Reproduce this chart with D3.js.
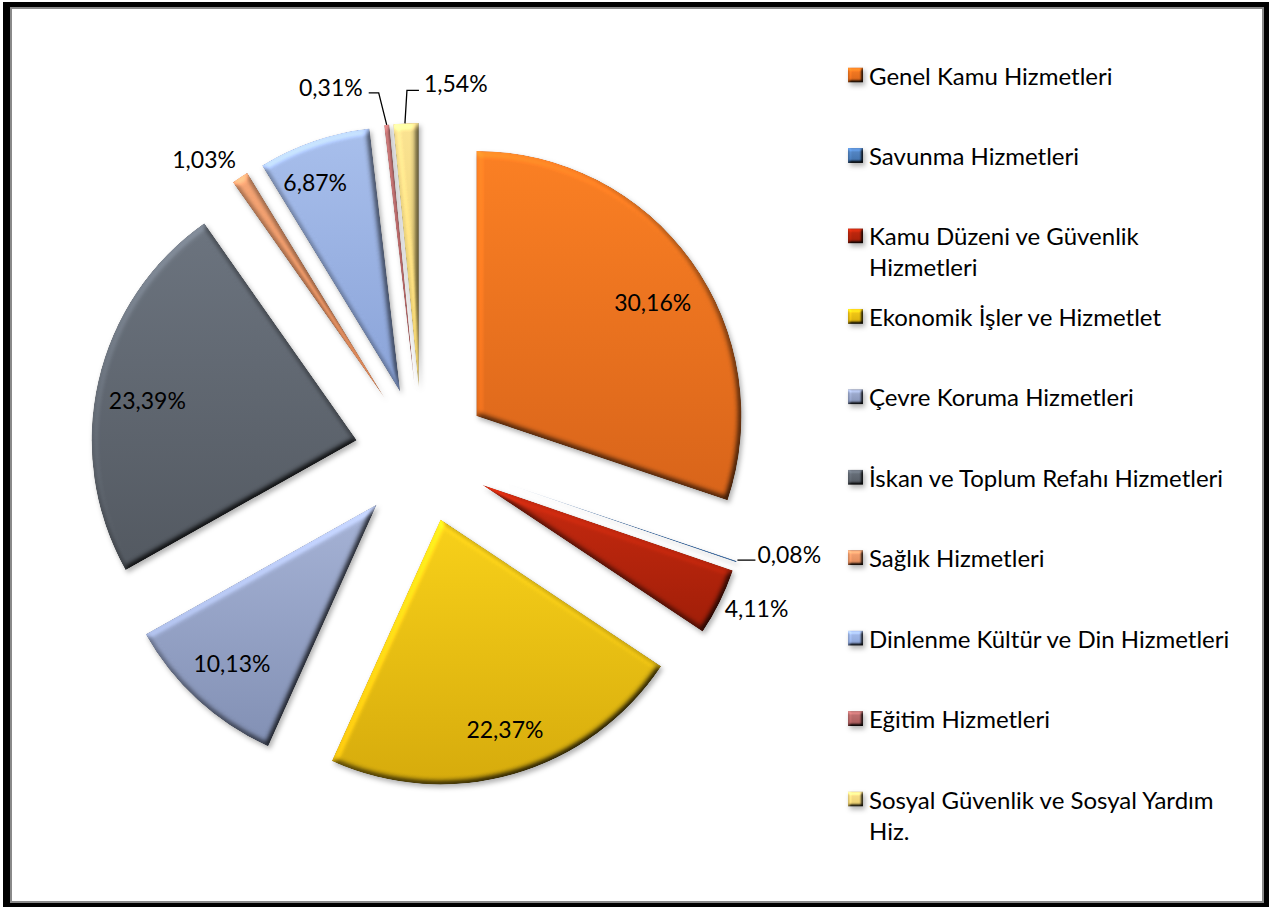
<!DOCTYPE html>
<html>
<head>
<meta charset="utf-8">
<script src="https://cdn.jsdelivr.net/npm/d3@7"></script>
<style>
  html, body { margin: 0; padding: 0; background: #fff; }
  svg { display: block; }
  text { font-family: Lato, "Open Sans", "Liberation Sans", sans-serif; fill: #000; }
</style>
</head>
<body>
<svg id="chart" width="1269" height="907"></svg>
<script>
// Budget shares by function (percent)
const categories = [
  "Genel Kamu Hizmetleri",
  "Savunma Hizmetleri",
  "Kamu Düzeni ve Güvenlik Hizmetleri",
  "Ekonomik İşler ve Hizmetlet",
  "Çevre Koruma Hizmetleri",
  "İskan ve Toplum Refahı Hizmetleri",
  "Sağlık Hizmetleri",
  "Dinlenme Kültür ve Din Hizmetleri",
  "Eğitim Hizmetleri",
  "Sosyal Güvenlik ve Sosyal Yardım Hiz."
];
const values = [30.16, 0.08, 4.11, 22.37, 10.13, 23.39, 1.03, 6.87, 0.31, 1.54];
const valueLabels = ["30,16%", "0,08%", "4,11%", "22,37%", "10,13%", "23,39%", "1,03%", "6,87%", "0,31%", "1,54%"];
const legendLines = [
  ["Genel Kamu Hizmetleri"],
  ["Savunma Hizmetleri"],
  ["Kamu Düzeni ve Güvenlik", "Hizmetleri"],
  ["Ekonomik İşler ve Hizmetlet"],
  ["Çevre Koruma Hizmetleri"],
  ["İskan ve Toplum Refahı Hizmetleri"],
  ["Sağlık Hizmetleri"],
  ["Dinlenme Kültür ve Din Hizmetleri"],
  ["Eğitim Hizmetleri"],
  ["Sosyal Güvenlik ve Sosyal Yardım", "Hiz."]
];

// Slice colours: [light top, dark bottom]
const palette = [
  ["#fb8024", "#d8641a"],
  ["#5a8ccc", "#3f6fa8"],
  ["#c82a10", "#a01e08"],
  ["#f8d11a", "#d6ab0c"],
  ["#a6b3d6", "#8290b4"],
  ["#6c747f", "#535961"],
  ["#f6a676", "#e08858"],
  ["#a8bfec", "#8aa3d8"],
  ["#c47676", "#a85858"],
  ["#fae392", "#ebcd6a"]
];

// Layout
const W = 1269, H = 907;
const cx = 422, cy = 455, R = 265, explode = 67;
const labelSize = 23, legendSize = 24;

// Small nudges for labels drawn inside their slice
const insideNudge = { 0: [2, 11], 3: [5, 3], 5: [0, 7], 7: [-15, -7] };

// Outside label placement relative to the slice's outer mid-point
const outsideLayout = {
  1: { dx: 21, dy: -8, anchor: "start", leader: [[1, -1.5], [19, -1.5]] },
  2: { dx: 5, dy: 6, anchor: "start", leader: null },
  6: { dx: -4, dy: -18, anchor: "end", leader: null },
  8: { dx: -24, dy: -38, anchor: "end", leader: [[0, 0], [-8, -32], [-18, -32]] },
  9: { dx: 18, dy: -40, anchor: "start", leader: [[-1, 0], [1, -33], [13, -33]] }
};

const svg = d3.select("#chart");
const defs = svg.append("defs");

// Gradients per series
palette.forEach((c, i) => {
  const g = defs.append("linearGradient")
    .attr("id", "grad" + i)
    .attr("x1", 0).attr("y1", 0).attr("x2", 0).attr("y2", 1);
  g.append("stop").attr("offset", "0%").attr("stop-color", c[0]);
  g.append("stop").attr("offset", "100%").attr("stop-color", c[1]);
});

// Soft bevel + drop shadow
function bevelFilter(id, blur, scale) {
  const f = defs.append("filter").attr("id", id)
    .attr("filterUnits", "userSpaceOnUse")
    .attr("x", -W).attr("y", -H).attr("width", 3 * W).attr("height", 3 * H)
    .attr("color-interpolation-filters", "sRGB");
  f.append("feGaussianBlur").attr("in", "SourceAlpha").attr("stdDeviation", blur).attr("result", "b");
  const light = f.append("feDiffuseLighting").attr("in", "b").attr("surfaceScale", scale)
    .attr("diffuseConstant", 1).attr("lighting-color", "#fff").attr("result", "diff");
  light.append("feDistantLight").attr("azimuth", 235).attr("elevation", 55);
  f.append("feComposite").attr("in", "SourceGraphic").attr("in2", "diff")
    .attr("operator", "arithmetic").attr("k1", 1.22).attr("k2", 0).attr("k3", 0).attr("k4", 0)
    .attr("result", "lit");
  f.append("feComposite").attr("in", "lit").attr("in2", "SourceAlpha").attr("operator", "in").attr("result", "litIn");
  f.append("feGaussianBlur").attr("in", "SourceAlpha").attr("stdDeviation", 2.5).attr("result", "sb");
  f.append("feOffset").attr("in", "sb").attr("dx", 2).attr("dy", 3).attr("result", "so");
  f.append("feFlood").attr("flood-color", "#000").attr("flood-opacity", 0.3).attr("result", "fc");
  f.append("feComposite").attr("in", "fc").attr("in2", "so").attr("operator", "in").attr("result", "shadow");
  const m = f.append("feMerge");
  m.append("feMergeNode").attr("in", "shadow");
  m.append("feMergeNode").attr("in", "litIn");
}
bevelFilter("bevel", 3, 4);
bevelFilter("bevelSmall", 1.5, 3);

// Frame
svg.append("rect").attr("x", 3).attr("y", 2).attr("width", W - 3).attr("height", H - 2).attr("fill", "#000");
svg.append("rect").attr("x", 10).attr("y", 7).attr("width", 1254).attr("height", 896).attr("fill", "#8a8a8a");
svg.append("rect").attr("x", 12).attr("y", 9).attr("width", 1250).attr("height", 892).attr("fill", "#fff");

// Pie
const pie = d3.pie().sort(null).startAngle(0).endAngle(2 * Math.PI);
const arcs = pie(values);
const arc = d3.arc().innerRadius(0).outerRadius(R);

const dirOf = a => [Math.sin(a), -Math.cos(a)];

const slices = svg.append("g").attr("class", "slices");
arcs.forEach((d, i) => {
  const mid = (d.startAngle + d.endAngle) / 2;
  const [ux, uy] = dirOf(mid);
  d.ox = cx + explode * ux;
  d.oy = cy + explode * uy;
  d.mid = mid;
  slices.append("path")
    .attr("transform", `translate(${d.ox},${d.oy})`)
    .attr("d", arc(d))
    .attr("fill", `url(#grad${i})`)
    .attr("filter", "url(#bevel)");
});

// Value labels
const labels = svg.append("g").attr("class", "labels")
  .style("font-size", labelSize + "px");
arcs.forEach((d, i) => {
  const [ux, uy] = dirOf(d.mid);
  const lay = outsideLayout[i];
  if (!lay) {
    const lr = R * 0.81;
    const [nx, ny] = insideNudge[i] || [0, 0];
    labels.append("text")
      .attr("x", d.ox + lr * ux + nx)
      .attr("y", d.oy + lr * uy + ny)
      .attr("text-anchor", "middle")
      .attr("dominant-baseline", "central")
      .text(valueLabels[i]);
  } else {
    const px = d.ox + R * ux, py = d.oy + R * uy;
    if (lay.leader) {
      labels.append("path")
        .attr("d", d3.line()(lay.leader.map(p => [px + p[0], py + p[1]])))
        .attr("fill", "none").attr("stroke", "#000").attr("stroke-width", 1.3);
    }
    labels.append("text")
      .attr("x", px + lay.dx)
      .attr("y", py + lay.dy)
      .attr("text-anchor", lay.anchor)
      .attr("dominant-baseline", "central")
      .text(valueLabels[i]);
  }
});

// Legend
const legend = svg.append("g").attr("class", "legend").style("font-size", legendSize + "px");
const rowY = d3.scalePoint().domain(d3.range(categories.length)).range([75, 799]);
categories.forEach((c, i) => {
  const y = rowY(i);
  legend.append("rect")
    .attr("x", 848).attr("y", y - 7.5).attr("width", 15).attr("height", 15)
    .attr("fill", `url(#grad${i})`)
    .attr("filter", "url(#bevelSmall)");
  legendLines[i].forEach((line, k) => {
    legend.append("text")
      .attr("x", 869).attr("y", y + k * 31)
      .attr("dominant-baseline", "central")
      .text(line);
  });
});
</script>
</body>
</html>
